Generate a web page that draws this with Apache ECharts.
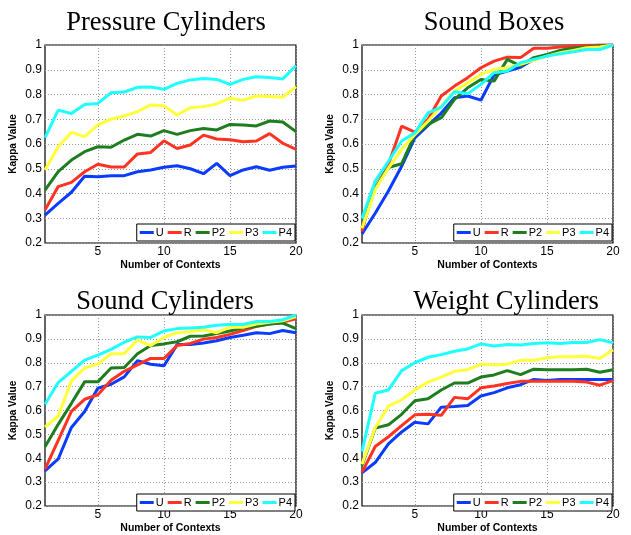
<!DOCTYPE html>
<html>
<head>
<meta charset="utf-8">
<script src="https://cdn.jsdelivr.net/npm/echarts@6/dist/echarts.min.js"></script>
<style>html,body{margin:0;padding:0;background:#fff;}#c{width:631px;height:535px;}</style>
</head>
<body>
<div id="c"></div>
<script>
const contexts = [1,2,3,4,5,6,7,8,9,10,11,12,13,14,15,16,17,18,19,20];
const seriesNames = ['U','R','P2','P3','P4'];
const titles = ['Pressure Cylinders','Sound Boxes','Sound Cylinders','Weight Cylinders'];
const xTicks = [5,10,15,20];

// Pressure Cylinders
const pcU  = [0.313,0.360,0.405,0.470,0.468,0.472,0.472,0.488,0.495,0.506,0.512,0.500,0.480,0.522,0.472,0.495,0.508,0.494,0.506,0.511];
const pcR  = [0.333,0.428,0.445,0.488,0.518,0.507,0.507,0.560,0.566,0.613,0.582,0.596,0.636,0.620,0.617,0.609,0.612,0.642,0.603,0.578];
const pcP2 = [0.414,0.488,0.535,0.569,0.589,0.587,0.616,0.639,0.632,0.654,0.639,0.654,0.663,0.657,0.679,0.677,0.673,0.693,0.689,0.650];
const pcP3 = [0.495,0.589,0.647,0.630,0.677,0.700,0.713,0.731,0.758,0.755,0.717,0.747,0.751,0.762,0.785,0.777,0.794,0.792,0.789,0.832];
const pcP4 = [0.626,0.737,0.723,0.760,0.764,0.807,0.810,0.829,0.830,0.821,0.845,0.859,0.865,0.861,0.841,0.861,0.872,0.869,0.863,0.916];

// Sound Boxes
const sbU  = [0.237,0.320,0.410,0.510,0.625,0.675,0.725,0.787,0.794,0.777,0.880,0.895,0.910,0.942,0.955,0.976,0.990,0.996,0.999,1.000];
const sbR  = [0.247,0.450,0.517,0.672,0.648,0.700,0.794,0.834,0.868,0.908,0.935,0.951,0.949,0.987,0.987,0.992,0.996,0.999,1.000,1.000];
const sbP2 = [0.260,0.422,0.505,0.520,0.638,0.679,0.706,0.780,0.827,0.861,0.854,0.942,0.915,0.949,0.962,0.978,0.987,0.992,0.996,1.000];
const sbP3 = [0.260,0.416,0.503,0.578,0.638,0.692,0.753,0.814,0.847,0.881,0.901,0.908,0.922,0.938,0.955,0.969,0.978,0.989,0.992,1.000];
const sbP4 = [0.300,0.450,0.530,0.612,0.645,0.726,0.749,0.811,0.803,0.841,0.888,0.895,0.928,0.942,0.955,0.965,0.973,0.982,0.982,1.000];

// Sound Cylinders
const scU  = [0.347,0.397,0.529,0.596,0.693,0.710,0.741,0.809,0.794,0.787,0.876,0.876,0.883,0.892,0.906,0.915,0.926,0.922,0.935,0.926];
const scR  = [0.354,0.475,0.596,0.647,0.666,0.727,0.764,0.791,0.818,0.818,0.872,0.881,0.899,0.906,0.919,0.935,0.953,0.962,0.970,0.984];
const scP2 = [0.448,0.542,0.630,0.720,0.720,0.778,0.780,0.838,0.872,0.879,0.888,0.911,0.912,0.922,0.933,0.946,0.953,0.962,0.966,0.943];
const scP3 = [0.531,0.576,0.724,0.778,0.794,0.838,0.838,0.895,0.872,0.906,0.926,0.930,0.938,0.926,0.949,0.949,0.962,0.970,0.976,0.993];
const scP4 = [0.626,0.717,0.764,0.811,0.832,0.856,0.886,0.908,0.906,0.933,0.943,0.946,0.949,0.957,0.960,0.960,0.973,0.973,0.980,1.000];

// Weight Cylinders
const wcU  = [0.339,0.382,0.460,0.510,0.551,0.544,0.614,0.617,0.621,0.661,0.675,0.695,0.708,0.730,0.726,0.730,0.730,0.730,0.730,0.730];
const wcR  = [0.341,0.449,0.490,0.537,0.582,0.584,0.580,0.655,0.649,0.695,0.703,0.713,0.722,0.723,0.722,0.722,0.723,0.719,0.706,0.725];
const wcP2 = [0.370,0.526,0.540,0.584,0.641,0.649,0.686,0.715,0.715,0.740,0.749,0.767,0.750,0.773,0.771,0.771,0.771,0.773,0.760,0.771];
const wcP3 = [0.375,0.528,0.618,0.645,0.686,0.719,0.740,0.764,0.771,0.794,0.791,0.794,0.810,0.810,0.821,0.825,0.825,0.827,0.818,0.854];
const wcP4 = [0.429,0.672,0.686,0.767,0.800,0.823,0.834,0.848,0.858,0.879,0.870,0.876,0.874,0.881,0.884,0.881,0.885,0.885,0.897,0.884];

const panels = [
  [pcU, pcR, pcP2, pcP3, pcP4],
  [sbU, sbR, sbP2, sbP3, sbP4],
  [scU, scR, scP2, scP3, scP4],
  [wcU, wcR, wcP2, wcP3, wcP4]
];

const colors = ['#0a3cff','#ff3322','#1e7d1e','#ffff3a','#1effff'];
const gridPos = [
  {left:45, top:45}, {left:362, top:45},
  {left:45, top:315}, {left:362, top:315}
];
const titlePos = [
  {x:161, y:5}, {x:489, y:5},
  {x:160, y:284}, {x:501, y:284}
];

const chart = echarts.init(document.getElementById('c'), null, {renderer:'canvas'});
const option = {
  animation: false,
  backgroundColor: '#fff',
  title: [], grid: [], xAxis: [], yAxis: [], legend: [], series: []
};
for (let i = 0; i < 4; i++) {
  option.title.push({
    text: titles[i], left: titlePos[i].x, top: titlePos[i].y, textAlign: 'center',
    textStyle: {fontFamily: 'Liberation Serif', fontSize: 26.5, fontWeight: 'normal', color: '#000'}
  });
  option.grid.push({
    left: gridPos[i].left, top: gridPos[i].top, width: 251, height: 198,
    show: true, borderColor: '#000', borderWidth: 1.2, backgroundColor: '#fff'
  });
  option.xAxis.push({
    type: 'value', gridIndex: i, min: 1, max: 20,
    name: 'Number of Contexts', nameLocation: 'middle', nameGap: 17,
    nameTextStyle: {fontFamily: 'Liberation Sans', fontWeight: 'bold', fontSize: 10.5, color: '#000'},
    axisLine: {show: false},
    axisTick: {show: false, customValues: xTicks},
    axisLabel: {customValues: xTicks, fontFamily: 'Liberation Sans', fontSize: 12, color: '#000', margin: 3},
    splitLine: {show: true, lineStyle: {color: '#999', width: 1, type: [1, 2]}}
  });
  option.yAxis.push({
    type: 'value', gridIndex: i, min: 0.2, max: 1, interval: 0.1,
    name: 'Kappa Value', nameLocation: 'middle', nameGap: 27, nameRotate: 90,
    nameTextStyle: {fontFamily: 'Liberation Sans', fontWeight: 'bold', fontSize: 10, color: '#000'},
    axisLine: {show: false}, axisTick: {show: false},
    axisLabel: {fontFamily: 'Liberation Sans', fontSize: 12, color: '#000', margin: 3,
      formatter: v => (Math.abs(v - 1) < 1e-9 ? '1' : v.toFixed(1))},
    splitLine: {show: true, lineStyle: {color: '#999', width: 1, type: [1, 2]}}
  });
  option.legend.push({
    data: seriesNames,
    right: (i % 2 === 0) ? (631 - 295) : (631 - 612),
    top: gridPos[i].top + 179,
    orient: 'horizontal',
    backgroundColor: '#fff', borderColor: '#000', borderWidth: 1,
    padding: [3, 3], itemGap: 4, itemWidth: 14, itemHeight: 3, icon: 'rect',
    textStyle: {fontFamily: 'Liberation Sans', fontSize: 11, color: '#000', padding: [0, 0, 0, -3]}
  });
  for (let s = 0; s < 5; s++) {
    option.series.push({
      type: 'line', name: seriesNames[s], xAxisIndex: i, yAxisIndex: i,
      data: contexts.map((c, k) => [c, panels[i][s][k]]),
      showSymbol: false, symbol: 'none',
      lineStyle: {width: 3, color: colors[s]}, itemStyle: {color: colors[s]}
    });
  }
}
chart.setOption(option);
</script>
</body>
</html>
